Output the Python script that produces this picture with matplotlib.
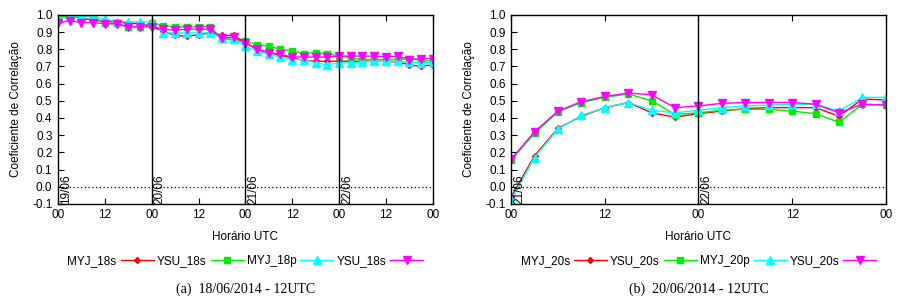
import numpy as np
import matplotlib
matplotlib.use('Agg')
import matplotlib.pyplot as plt

plt.rcParams['font.family'] = 'Liberation Sans'
plt.rcParams['font.size'] = 8.5

# ---- data (a) 18/06/2014 - 12UTC, hours from 19/06 00UTC, every 3 h
hours_a = np.arange(0, 97, 3)
red_a = [0.99, 1.00, 0.98, 0.97, 0.96, 0.96, 0.95, 0.95, 0.93, 0.905, 0.88, 0.875,
         0.885, 0.895, 0.88, 0.88, 0.84, 0.80, 0.78, 0.765, 0.75, 0.735, 0.73, 0.73,
         0.73, 0.73, 0.73, 0.73, 0.73, 0.725, 0.71, 0.70, 0.71]
green_a = [0.98, 0.995, 0.995, 0.99, 0.95, 0.95, 0.93, 0.93, 0.955, 0.937, 0.93, 0.93,
           0.93, 0.93, 0.86, 0.855, 0.845, 0.827, 0.817, 0.80, 0.79, 0.775, 0.78, 0.775,
           0.76, 0.75, 0.74, 0.74, 0.74, 0.74, 0.745, 0.735, 0.73]
cyan_a = [0.98, 0.985, 0.995, 0.99, 0.975, 0.96, 0.96, 0.96, 0.96, 0.895, 0.895, 0.895,
          0.895, 0.895, 0.865, 0.86, 0.817, 0.79, 0.77, 0.755, 0.74, 0.74, 0.72, 0.71,
          0.72, 0.72, 0.725, 0.73, 0.73, 0.73, 0.725, 0.72, 0.725]
mag_a = [0.95, 0.967, 0.955, 0.955, 0.948, 0.948, 0.93, 0.93, 0.93, 0.917, 0.91, 0.917,
         0.917, 0.917, 0.865, 0.87, 0.835, 0.80, 0.78, 0.77, 0.755, 0.755, 0.755, 0.755,
         0.76, 0.76, 0.76, 0.76, 0.755, 0.76, 0.74, 0.745, 0.745]

# ---- data (b) 20/06/2014 - 12UTC, hours from 21/06 00UTC
hours_b = np.arange(0, 49, 3)
red_b = [-0.06, 0.18, 0.34, 0.41, 0.46, 0.49, 0.43, 0.405, 0.425, 0.44, 0.455, 0.46,
         0.46, 0.46, 0.41, 0.51, 0.505]
green_b = [0.155, 0.31, 0.435, 0.49, 0.52, 0.54, 0.50, 0.42, 0.43, 0.445, 0.45, 0.45,
           0.44, 0.425, 0.375, 0.48, 0.475]
cyan_b = [-0.08, 0.17, 0.335, 0.415, 0.46, 0.49, 0.445, 0.43, 0.445, 0.46, 0.47, 0.475,
          0.48, 0.48, 0.44, 0.52, 0.52]
mag_b = [0.16, 0.32, 0.44, 0.495, 0.525, 0.545, 0.535, 0.46, 0.47, 0.485, 0.49, 0.49,
         0.49, 0.48, 0.43, 0.48, 0.475]

labels_a = ['MYJ_18s', 'YSU_18s', 'MYJ_18p', 'YSU_18s']
labels_b = ['MYJ_20s', 'YSU_20s', 'MYJ_20p', 'YSU_20s']
days_a = ['19/06', '20/06', '21/06', '22/06']
days_b = ['21/06', '22/06']
captions = ['(a)  18/06/2014 - 12UTC', '(b)  20/06/2014 - 12UTC']

styles = [dict(color='#ff0000', marker='D', ms=3),
          dict(color='#00ee00', marker='s', ms=5),
          dict(color='#00ffff', marker='^', ms=6),
          dict(color='#ff00ff', marker='v', ms=6)]

fig = plt.figure(figsize=(9.03, 3.03), dpi=100)
ax1 = fig.add_axes([0.0642, 0.327, 0.415, 0.624])
ax2 = fig.add_axes([0.566, 0.327, 0.415, 0.624])


def draw(ax, hours, series, labels, days, caption, span):
    for y, lab, st in zip(series, labels, styles):
        ax.plot(hours, y, lw=1, label=lab, **st)
    ax.set_xlim(0, span)
    ax.set_ylim(-0.1, 1.0)
    ax.axhline(0, color='k', ls=(0, (1, 2)), lw=0.9)
    ax.set_xticks(np.arange(0, span + 1, 12))
    ax.set_xticklabels(['00' if h % 24 == 0 else '12' for h in np.arange(0, span + 1, 12)])
    ax.set_yticks(np.arange(-0.1, 1.01, 0.1))
    ax.set_yticklabels(['%.1f' % v for v in np.arange(-0.1, 1.01, 0.1)])
    ax.tick_params(direction='in', length=4, top=True, width=0.8, pad=4)
    for sp in ax.spines.values():
        sp.set_linewidth(1.0)
    # day separators and labels
    for i, d in enumerate(days):
        x = 24 * i
        if x > 0:
            ax.axvline(x, color='k', lw=1)
        ax.text(x + span * 0.006, -0.1, d, rotation=90, ha='left', va='bottom', fontsize=8.5)
    ax.set_xlabel('Horário UTC', labelpad=7)
    ax.set_ylabel('Coeficiente de Correlação', labelpad=7)
    ax.legend(loc='upper center', bbox_to_anchor=(0.5, -0.215), ncol=4, frameon=False,
              markerfirst=False, handlelength=2.8, columnspacing=0.25, handletextpad=0.35,
              fontsize=8.5)
    ax.text(0.5, -0.45, caption, transform=ax.transAxes, ha='center', va='center',
            fontsize=10, family='Liberation Serif')


draw(ax1, hours_a, [red_a, green_a, cyan_a, mag_a], labels_a, days_a, captions[0], 96)
draw(ax2, hours_b, [red_b, green_b, cyan_b, mag_b], labels_b, days_b, captions[1], 48)

fig.savefig('out.png', dpi=100)
